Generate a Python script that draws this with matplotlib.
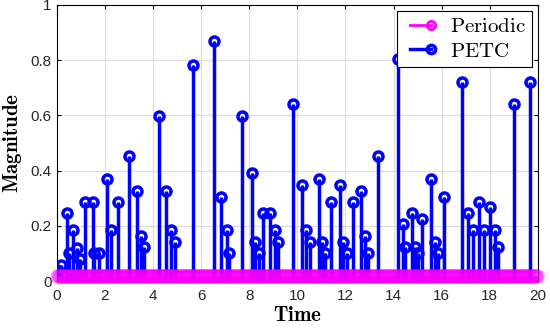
import numpy as np
import matplotlib
matplotlib.use('Agg')
import matplotlib.pyplot as plt
from matplotlib.lines import Line2D
from matplotlib.legend_handler import HandlerLine2D

plt.rcParams['mathtext.fontset'] = 'cm'
plt.rcParams['font.family'] = 'Liberation Sans'

# PETC event times and magnitudes
petc_t = [0.0, 0.17, 0.44, 0.53, 0.69, 0.83, 0.97, 1.19, 1.5, 1.57, 1.74,
          2.08, 2.25, 2.56, 3.01, 3.33, 3.5, 3.65, 4.24, 4.56, 4.76, 4.9,
          5.67, 6.53, 6.85, 7.06, 7.17, 7.72, 8.11, 8.26, 8.39, 8.57, 8.875,
          9.07, 9.21, 9.83, 10.18, 10.36, 10.53, 10.89, 11.03, 11.17, 11.42,
          11.78, 11.9, 12.06, 12.31, 12.64, 12.81, 12.93, 13.36, 14.17, 14.39,
          14.49, 14.75, 14.89, 15.0, 15.2, 15.56, 15.72, 15.83, 16.11, 16.85,
          17.08, 17.29, 17.57, 17.75, 18.03, 18.22, 18.36, 18.99, 19.67]
petc_mag = [0.04, 0.06, 0.247, 0.10, 0.185, 0.12, 0.08, 0.288, 0.288, 0.10, 0.10,
            0.37, 0.185, 0.288, 0.454, 0.328, 0.164, 0.123, 0.599, 0.328, 0.185, 0.143,
            0.784, 0.868, 0.306, 0.185, 0.102, 0.599, 0.39, 0.143, 0.102, 0.247, 0.247,
            0.185, 0.143, 0.64, 0.349, 0.185, 0.143, 0.37, 0.143, 0.102, 0.288,
            0.349, 0.143, 0.102, 0.288, 0.328, 0.164, 0.102, 0.454, 0.804, 0.205,
            0.123, 0.247, 0.123, 0.102, 0.226, 0.37, 0.143, 0.102, 0.306, 0.722,
            0.247, 0.185, 0.288, 0.185, 0.267, 0.185, 0.123, 0.64, 0.722]

# periodic sampling: every 0.01 s, constant magnitude
periodic_dt = 0.01
periodic_level = 0.02
periodic_t = np.arange(0, 20 + periodic_dt / 2, periodic_dt)
periodic_mag = np.full(len(periodic_t), periodic_level)

xticks = list(range(0, 21, 2))
yticks = [0, 0.2, 0.4, 0.6, 0.8, 1]
ytick_labels = ['0', '0.2', '0.4', '0.6', '0.8', '1']

fig = plt.figure(figsize=(5.5, 3.28), dpi=100)
ax = fig.add_axes([0.103, 0.143, 0.875, 0.842])

ml2, sl2, bl2 = ax.stem(petc_t, petc_mag)
plt.setp(sl2, color='#0000ff', linewidth=2.5, zorder=3)
plt.setp(ml2, color='#0000ff', markerfacecolor='none', markersize=6.5,
         markeredgewidth=2.5, zorder=3)
bl2.set_visible(False)

# thousands of overlapping samples -> small alpha per sample
ml, sl, bl = ax.stem(periodic_t, periodic_mag)
plt.setp(sl, color='#ff00ff', linewidth=2, alpha=0.16, zorder=4)
plt.setp(ml, color='#ff00ff', markerfacecolor='none', markersize=8,
         markeredgewidth=2.5, alpha=0.07, zorder=4, clip_on=False)
bl.set_visible(False)

ax.set_xlim(0, 20)
ax.set_ylim(0, 1)
ax.set_xticks(xticks)
ax.set_yticks(yticks)
ax.set_yticklabels(ytick_labels)
ax.tick_params(direction='in', labelsize=11, length=3, top=True, right=True,
               labelcolor='#262626')
ax.tick_params(axis='x', pad=6)
ax.grid(True, color='#dcdcdc', linewidth=0.8)
ax.set_axisbelow(True)

ax.set_xlabel(r'$\mathbf{Time}$', fontsize=15, labelpad=2)
ax.set_ylabel(r'$\mathbf{Magnitude}$', fontsize=15, labelpad=5)

h_per = Line2D([], [], color='#ff00ff', linewidth=2, marker='o',
               markerfacecolor='none', markersize=6, markeredgewidth=2)
h_petc = Line2D([], [], color='#0000ff', linewidth=2.5, marker='o',
                markerfacecolor='none', markersize=6, markeredgewidth=2.5)


def right_marker(leg_handle, orig):
    leg_handle.update_from(orig)
    leg_handle.set_markevery([1])


hm = {h_per: HandlerLine2D(numpoints=2, update_func=right_marker),
      h_petc: HandlerLine2D(numpoints=2, update_func=right_marker)}
leg = ax.legend([h_per, h_petc], [r'$\mathrm{Periodic}$', r'$\mathrm{PETC}$'],
                handler_map=hm, loc='upper right', fontsize=15, fancybox=False,
                framealpha=1, edgecolor='black', borderaxespad=0.3,
                handlelength=1.6, handletextpad=0.6, borderpad=0.3,
                labelspacing=0.25)
leg.get_frame().set_linewidth(0.8)
leg.set_zorder(10)

fig.savefig('out.png', dpi=100)
